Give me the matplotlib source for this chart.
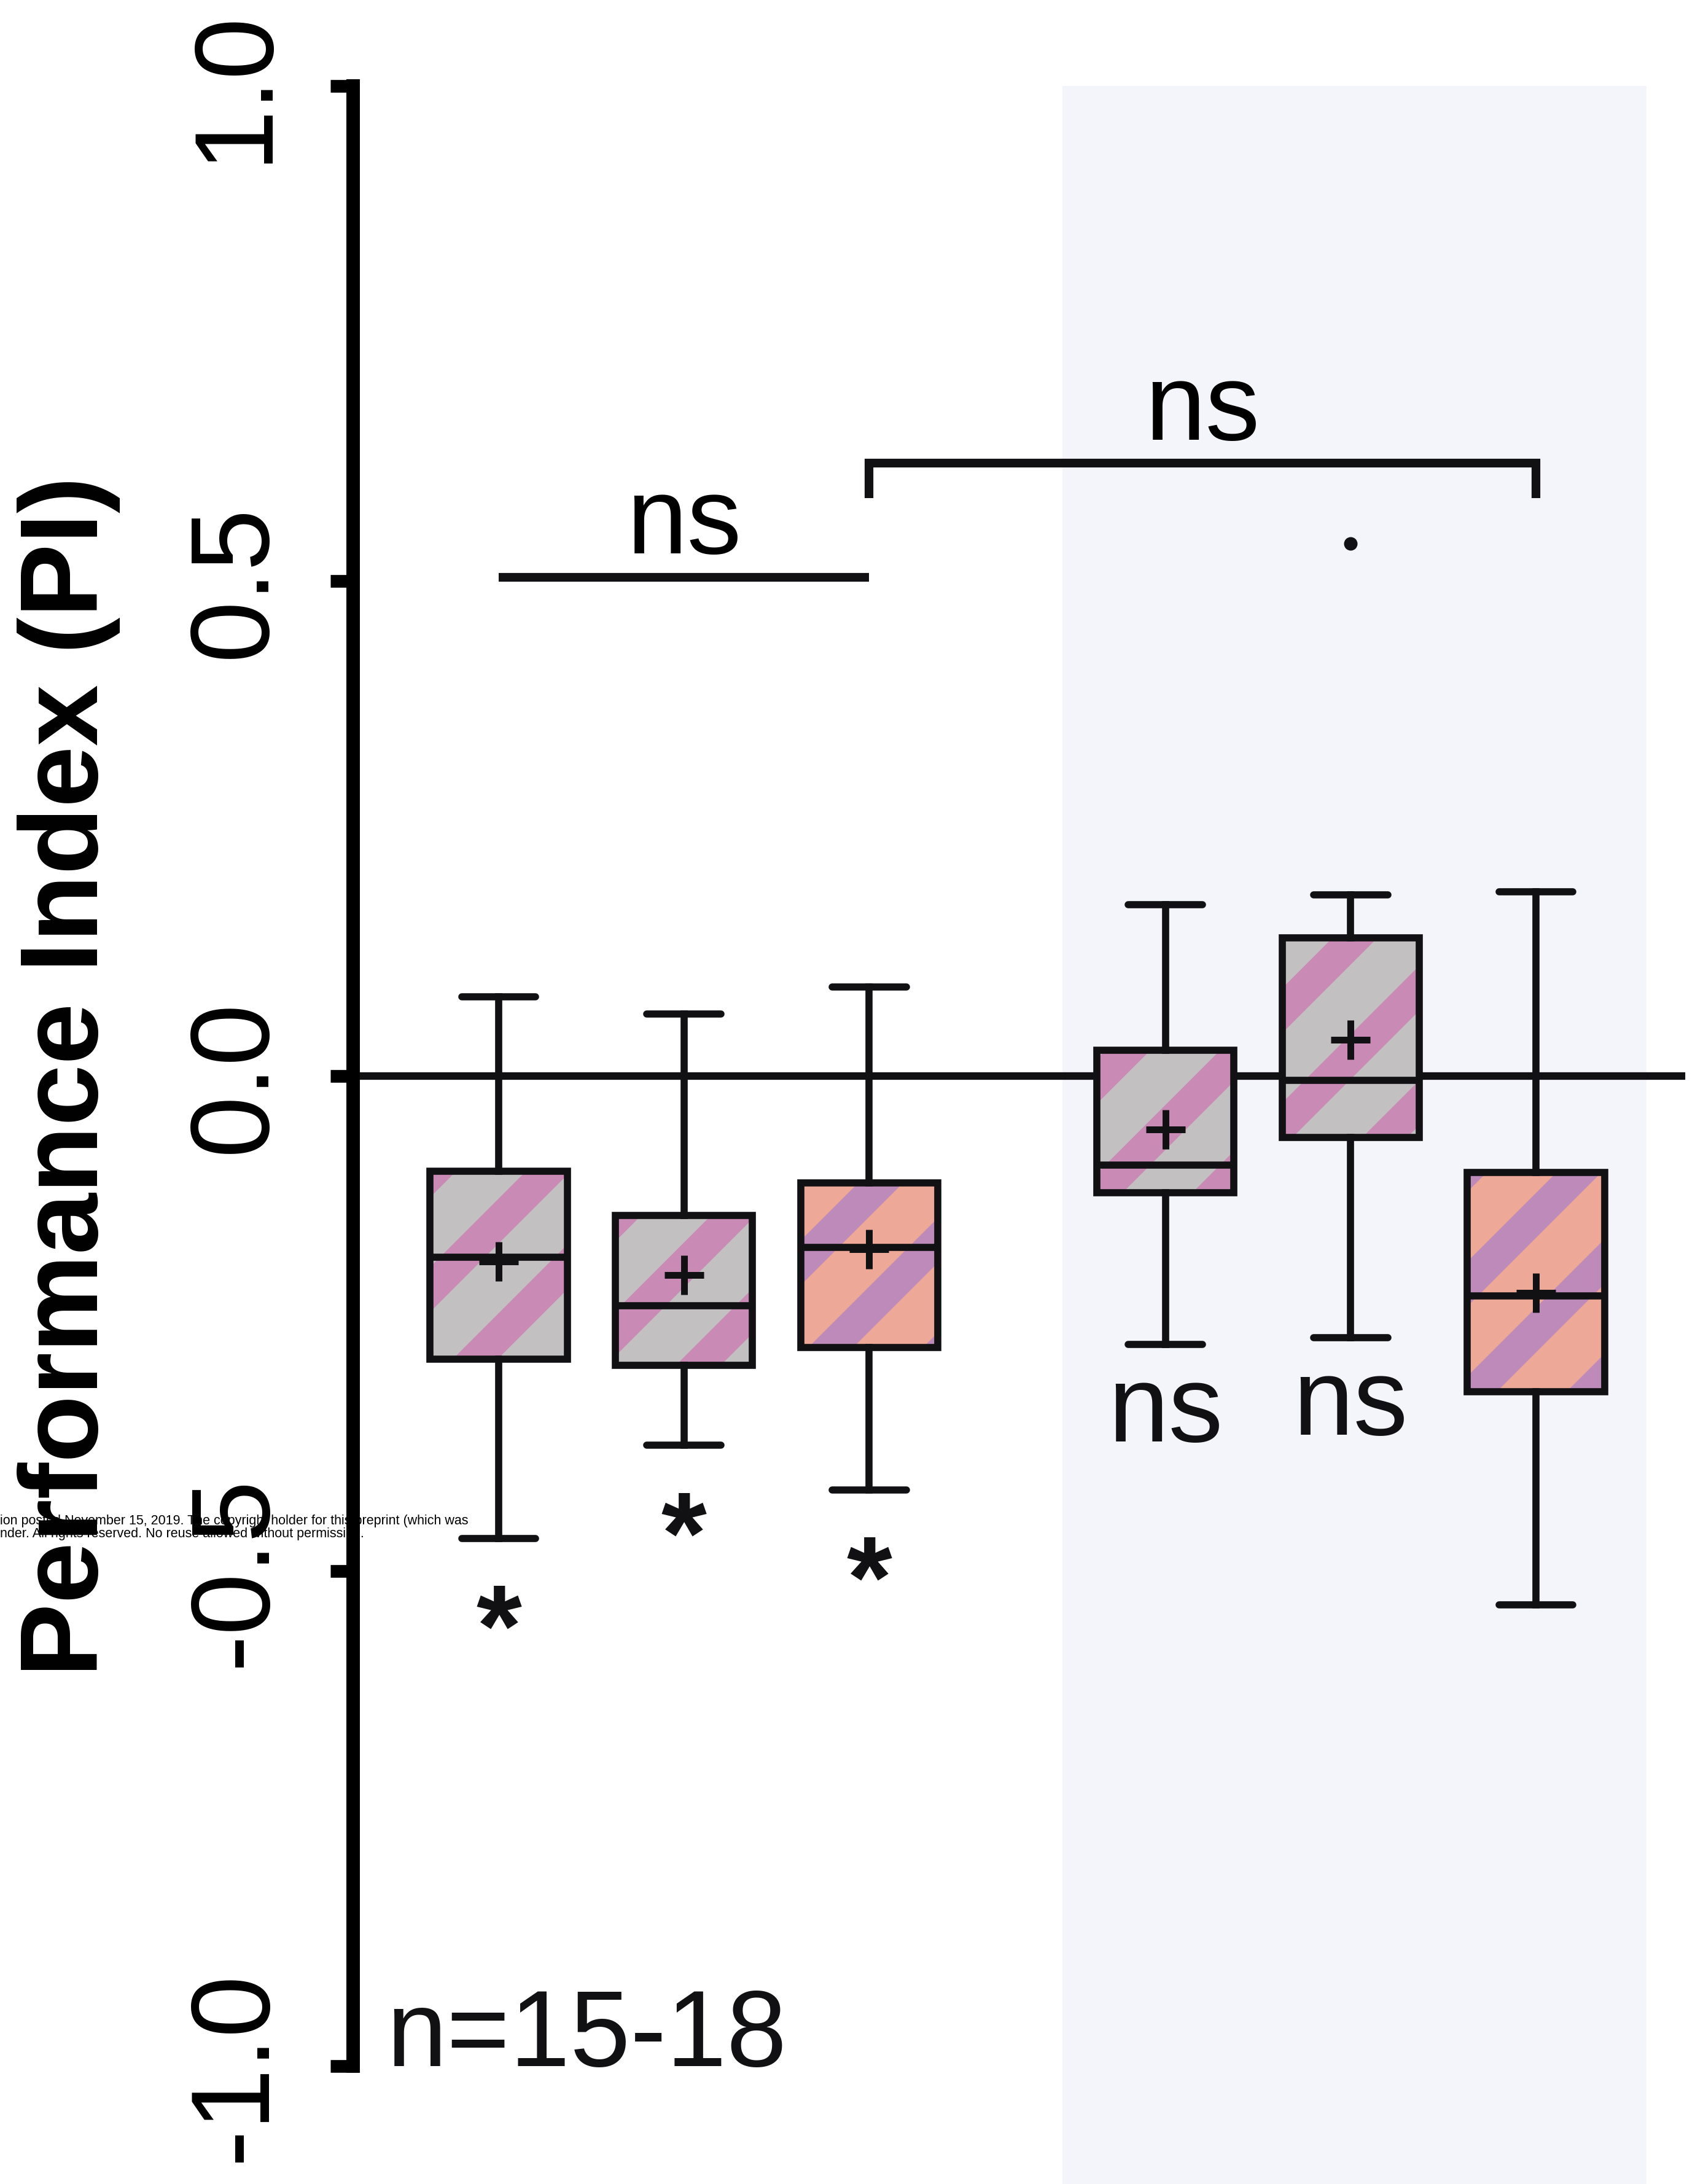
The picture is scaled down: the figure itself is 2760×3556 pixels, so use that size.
import matplotlib
matplotlib.use('Agg')
import matplotlib.pyplot as plt
import matplotlib.ticker as mticker
from matplotlib.patches import PathPatch
from matplotlib.path import Path

# dpi chosen so the '/' hatch gives stripes of the right spacing;
# K rescales every size (given in points for dpi 465) to that dpi
DPI = 560
K = 465 / DPI

plt.rcParams['font.family'] = ['Liberation Sans', 'DejaVu Sans']
plt.rcParams['axes.unicode_minus'] = False
plt.rcParams['hatch.linewidth'] = 8.0 * K

# box summaries (PI values)
positions = [1, 2, 3, 4.6, 5.6, 6.6]
whis_hi = [0.080, 0.063, 0.090, 0.173, 0.183, 0.186]
q3 = [-0.096, -0.141, -0.108, 0.026, 0.140, -0.097]
medians = [-0.183, -0.232, -0.173, -0.090, -0.004, -0.222]
means = [-0.187, -0.201, -0.175, -0.054, 0.037, -0.219]
q1 = [-0.286, -0.292, -0.274, -0.118, -0.062, -0.319]
whis_lo = [-0.467, -0.373, -0.418, -0.271, -0.264, -0.534]
outliers = [[], [], [], [], [0.538], []]
kinds = ['grey', 'grey', 'red', 'grey', 'grey', 'red']
below_labels = ['*', '*', '*', 'ns', 'ns', '']
yticks = [-1.0, -0.5, 0.0, 0.5, 1.0]

INK = '#111114'
FACE = {'grey': '#C3C0C2', 'red': '#EEA898'}
STRIPE = {'grey': '#C98BB6', 'red': '#BE8ABA'}
SHADE = '#F4F5FA'

fig = plt.figure(figsize=(2760 / DPI, 3556 / DPI), dpi=DPI)
ax = fig.add_axes([575 / 2760, 0, 2185 / 2760, 1])
ax.patch.set_visible(False)
XLIM = (0.214, 7.459)
YLIM = (-1.119, 1.087)
ax.set_xlim(*XLIM)
ax.set_ylim(*YLIM)

# shaded second group
ax.axvspan(4.044, 7.197, ymin=0, ymax=(1.0 - YLIM[0]) / (YLIM[1] - YLIM[0]),
           color=SHADE, lw=0, zorder=0)
ax.axhline(0, xmin=0, xmax=(7.386 - XLIM[0]) / (XLIM[1] - XLIM[0]),
           color=INK, lw=1.9 * K, zorder=1)

stats = [dict(med=m, q1=a, q3=b, whislo=lo, whishi=hi, mean=mu, fliers=f)
         for m, a, b, lo, hi, mu, f in zip(medians, q1, q3, whis_lo, whis_hi, means, outliers)]
lw = 1.8 * K
arts = ax.bxp(stats, positions=positions, widths=0.74, capwidths=0.4,
              patch_artist=True, showmeans=True, showfliers=True,
              boxprops=dict(linewidth=0),
              whiskerprops=dict(color=INK, linewidth=lw),
              capprops=dict(color=INK, linewidth=lw, solid_capstyle='round'),
              medianprops=dict(color=INK, linewidth=lw),
              meanprops=dict(marker='+', markersize=10 * K, markeredgewidth=1.7 * K,
                             markeredgecolor=INK),
              flierprops=dict(marker='o', markersize=2.2 * K, markerfacecolor=INK,
                              markeredgecolor=INK))
for box, kind in zip(arts['boxes'], kinds):
    box.set_facecolor(FACE[kind])
    box.set_edgecolor(STRIPE[kind])
    box.set_hatch('/')
    box.set_linewidth(0)
    outline = PathPatch(Path(box.get_path().vertices, closed=True),
                        transform=box.get_transform(), fill=False,
                        edgecolor=INK, linewidth=lw, zorder=box.get_zorder() + 0.05)
    ax.add_patch(outline)

# significance marks under the boxes
for pos, lo, lab in zip(positions, whis_lo, below_labels):
    if not lab:
        continue
    if lab == '*':
        ax.annotate(lab, (pos, lo), xytext=(0, -32 * K), textcoords='offset points',
                    ha='center', va='baseline', fontsize=29.4 * K, fontweight='bold',
                    color=INK)
    else:
        ax.annotate(lab, (pos, lo), xytext=(0, -24.5 * K), textcoords='offset points',
                    ha='center', va='baseline', fontsize=27.5 * K, color=INK)

# comparison brackets
LEFT_BAR_Y = 0.504
RIGHT_BAR_Y = 0.619
RIGHT_LEG_Y = 0.584
ax.plot([positions[0], positions[2]], [LEFT_BAR_Y, LEFT_BAR_Y], color=INK, lw=2.2 * K,
        solid_capstyle='butt')
ax.annotate('ns', ((positions[0] + positions[2]) / 2, LEFT_BAR_Y), xytext=(0, 6 * K),
            textcoords='offset points', ha='center', va='baseline', fontsize=27.5 * K)
ax.plot([positions[2], positions[2], positions[5], positions[5]],
        [RIGHT_LEG_Y, RIGHT_BAR_Y, RIGHT_BAR_Y, RIGHT_LEG_Y], color=INK, lw=2.2 * K,
        solid_capstyle='butt', solid_joinstyle='miter')
ax.annotate('ns', ((positions[2] + positions[5]) / 2, RIGHT_BAR_Y), xytext=(0, 6 * K),
            textcoords='offset points', ha='center', va='baseline', fontsize=27.5 * K)

ax.text(0.393, -1.0, 'n=15-18', fontsize=27.3 * K, ha='left', va='baseline', color=INK)

# axis styling
for s in ['top', 'right', 'bottom']:
    ax.spines[s].set_visible(False)
ax.spines['left'].set_bounds(-1, 1)
ax.spines['left'].set_linewidth(3.4 * K)
ax.spines['left'].set_capstyle('projecting')
ax.set_xticks([])
ax.set_yticks(yticks)
ax.yaxis.set_major_formatter(mticker.FormatStrFormatter('%.1f'))
ax.tick_params(axis='y', direction='out', length=5.7 * K, width=3.2 * K, pad=10.7 * K,
               labelsize=28 * K, labelrotation=90)
plt.setp(ax.get_yticklabels(), va='center')
ax.set_ylabel('Performance Index (PI)', fontsize=27.8 * K, fontweight='bold')
ax.yaxis.set_label_coords(-0.1735, 0, transform=ax.get_yaxis_transform())

# preprint watermark (partly hidden behind the plot)
fig.text(0, 1 - 2482 / 3556,
         'ion posted November 15, 2019. The copyright holder for this preprint (which was',
         fontsize=3.34 * K, ha='left', va='baseline', zorder=-1)
fig.text(0, 1 - 2503 / 3556,
         'nder. All rights reserved. No reuse allowed without permission.',
         fontsize=3.34 * K, ha='left', va='baseline', zorder=-1)

fig.savefig('out.png', dpi=DPI, facecolor='white')
